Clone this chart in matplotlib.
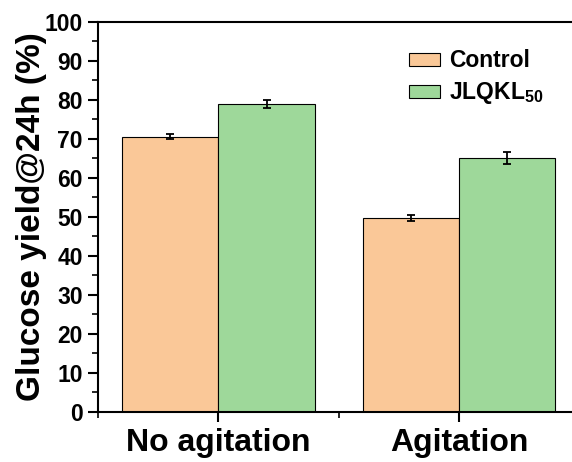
import numpy as np
import matplotlib
matplotlib.use('Agg')
import matplotlib.pyplot as plt
from matplotlib.ticker import MultipleLocator, FixedLocator

plt.rcParams['font.family'] = ['Liberation Sans', 'DejaVu Sans']
plt.rcParams['font.weight'] = 'bold'
plt.rcParams['mathtext.fontset'] = 'custom'
plt.rcParams['mathtext.rm'] = 'Liberation Sans:bold'
plt.rcParams['mathtext.bf'] = 'Liberation Sans:bold'

# data
groups = ['No agitation', 'Agitation']
series = ['Control', 'JLQKL$_{50}$']
control = [70.6, 49.7]
control_err = [0.7, 0.8]
jlqkl = [78.9, 65.1]
jlqkl_err = [1.0, 1.5]
colors = ['#FAC898', '#9ED89A']

fig = plt.figure(figsize=(5.72, 4.62), dpi=100)
ax = fig.add_axes([0.1713, 0.1093, 0.8418, 0.8431])

x = np.arange(1, len(groups) + 1)
w = 0.4
ax.bar(x - w / 2, control, w, color=colors[0], edgecolor='black', linewidth=0.8, label=series[0])
ax.bar(x + w / 2, jlqkl, w, color=colors[1], edgecolor='black', linewidth=0.8, label=series[1])
ax.errorbar(x - w / 2, control, yerr=control_err, fmt='none', ecolor='black',
            elinewidth=1.3, capsize=3, capthick=1.3)
ax.errorbar(x + w / 2, jlqkl, yerr=jlqkl_err, fmt='none', ecolor='black',
            elinewidth=1.3, capsize=3, capthick=1.3)

ax.set_xlim(0.5, 2.5)
ax.set_ylim(0, 100)
ax.set_xticks(x)
ax.set_xticklabels(groups, fontsize=23, fontweight='bold')
ax.xaxis.set_minor_locator(FixedLocator([0.5, 1.5, 2.5]))
ax.yaxis.set_major_locator(MultipleLocator(10))
ax.yaxis.set_minor_locator(MultipleLocator(5))
for lab in ax.get_yticklabels():
    lab.set_fontsize(16.5)
    lab.set_fontweight('bold')
ax.tick_params(which='major', direction='out', length=7, width=1.5, pad=4)
ax.tick_params(which='minor', direction='out', length=4, width=1.2)
ax.tick_params(axis='x', which='major', pad=5)
for s in ax.spines.values():
    s.set_linewidth(1.5)
ax.spines['right'].set_visible(False)

ax.set_ylabel('Glucose yield@24h (%)', fontsize=24, fontweight='bold')
ax.yaxis.set_label_coords(-0.105, 0.5)

ax.legend(loc='upper left', bbox_to_anchor=(0.646, 0.93), frameon=False,
          handlelength=1.35, handleheight=0.5, handletextpad=0.4,
          labelspacing=0.35, borderpad=0, borderaxespad=0,
          prop={'weight': 'bold', 'size': 16.5})

fig.savefig('out.png', dpi=100)
